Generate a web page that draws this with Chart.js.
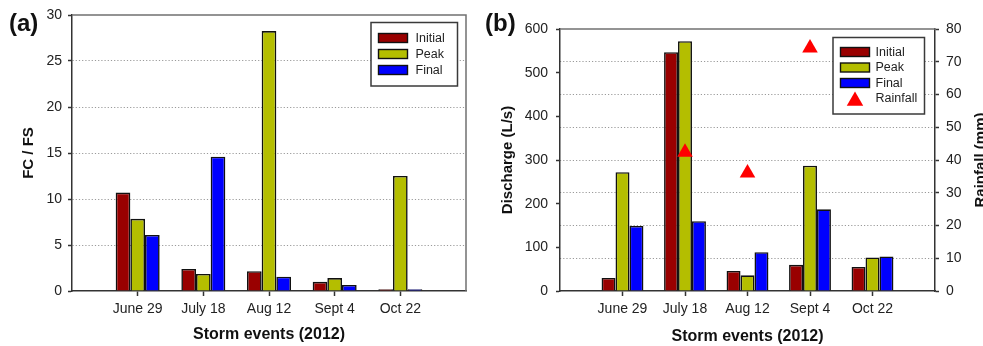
<!DOCTYPE html>
<html>
<head>
<meta charset="utf-8">
<script src="https://cdn.jsdelivr.net/npm/chart.js@4/dist/chart.umd.min.js"></script>
<style>
  html, body { margin: 0; padding: 0; background: #fff; overflow: hidden; }
  #wrap { position: relative; width: 983px; height: 346px; overflow: hidden; }
  .panel { position: absolute; top: 0; }
  #panelA { left: 0; }
  #panelB { left: 480px; }
</style>
</head>
<body>
<div id="wrap">
  <div class="panel" id="panelA"><canvas id="fcChart" width="480" height="346"></canvas></div>
  <div class="panel" id="panelB"><canvas id="qChart" width="520" height="346"></canvas></div>
</div>
<script>
const events = ['June 29', 'July 18', 'Aug 12', 'Sept 4', 'Oct 22'];

// FC / FS ratios per storm
const fcInitial = [10.7, 2.4, 2.15, 1.0, 0.2];
const fcPeak = [7.85, 1.85, 28.25, 1.4, 12.5];
const fcFinal = [6.1, 14.6, 1.55, 0.65, 0.2];

// discharge (L/s)
const qInitial = [30, 547, 46, 60, 55];
const qPeak = [272, 572, 36, 287, 77];
const qFinal = [149, 160, 89, 187, 79];

// rainfall (mm), no triangle for first and last storm
const rainfall = [null, 42.4, 36, 74.2, null];

// axis ranges: [min, max, step]
const fcAxis = [0, 30, 5];
const qAxis = [0, 600, 100];
const rainAxis = [0, 80, 10];

const colors = { Initial: '#990000', Peak: '#b4be00', Final: '#0000ff', Rainfall: '#ff0000' };

// empty slot on each side so the groups sit one category in from the frame
const slots = ['', ...events, ''];
const pad = arr => [null, ...arr, null];

const FONT = "'Liberation Sans', Arial, Helvetica, sans-serif";
Chart.defaults.font.family = FONT;
Chart.defaults.color = '#222';

const clear = 'rgba(0,0,0,0)';
const axisColor = '#333';

function bar(label, values, axisId) {
  return {
    label: label,
    data: pad(values),
    yAxisID: axisId,
    backgroundColor: colors[label],
    borderColor: '#111',
    borderWidth: 1.6,
    categoryPercentage: 0.67,
    barPercentage: 1.0
  };
}

function xScale(titlePadBottom) {
  return {
    type: 'category',
    offset: false,
    grid: {
      display: true, offset: false, drawOnChartArea: false, drawTicks: true,
      tickLength: 5, tickWidth: 1.5,
      tickColor: c => (c.index === 0 || c.index === slots.length - 1) ? clear : axisColor
    },
    border: { display: true, color: axisColor, width: 1.5 },
    ticks: { autoSkip: false, maxRotation: 0, padding: 5, font: { size: 14 }, color: '#222' },
    title: {
      display: true, text: 'Storm events (2012)', color: '#111',
      font: { size: 16, weight: 'bold' }, padding: { top: 0, bottom: titlePadBottom }
    },
    afterFit: s => { s.height = 55; }
  };
}

// dotted lines between the end values of an axis
function dottedGrid(range) {
  return c => (c.tick && c.tick.value > range[0] && c.tick.value < range[1]) ? '#9a9a9a' : clear;
}

// frame, panel letter, boxed legend and the clipped right-hand title
const panelDecor = {
  id: 'panelDecor',
  afterDraw(chart, args, opts) {
    const { ctx, chartArea: a } = chart;
    ctx.save();

    ctx.strokeStyle = '#707070';
    ctx.lineWidth = 1.5;
    ctx.beginPath();
    ctx.moveTo(a.left, a.top);
    ctx.lineTo(a.right, a.top);
    if (opts.closeRight) ctx.lineTo(a.right, a.bottom);
    ctx.stroke();

    ctx.fillStyle = '#111';
    ctx.font = 'bold 24px ' + FONT;
    ctx.textAlign = 'left';
    ctx.textBaseline = 'alphabetic';
    ctx.fillText(opts.letter, opts.letterX, 31);

    if (opts.rightTitle) {
      ctx.save();
      ctx.translate(opts.rightTitleX, (a.top + a.bottom) / 2);
      ctx.rotate(-Math.PI / 2);
      ctx.font = 'bold 15px ' + FONT;
      ctx.textAlign = 'center';
      ctx.textBaseline = 'top';
      ctx.fillText(opts.rightTitle, 0, 0);
      ctx.restore();
    }

    const lg = opts.legend;
    const x0 = a.right - lg.right - lg.w;
    const y0 = a.top + lg.top;
    ctx.fillStyle = '#fff';
    ctx.fillRect(x0, y0, lg.w, lg.h);
    ctx.strokeStyle = '#3a3a3a';
    ctx.lineWidth = 1.5;
    ctx.strokeRect(x0, y0, lg.w, lg.h);

    ctx.font = '12.5px ' + FONT;
    ctx.textBaseline = 'middle';
    chart.data.datasets.forEach((ds, i) => {
      const cy = y0 + lg.first + i * lg.step;
      const sx = x0 + 7.5;
      if (ds.type === 'line') {
        const cx = sx + 14.5, r = 9.5;
        ctx.fillStyle = colors[ds.label];
        ctx.beginPath();
        ctx.moveTo(cx, cy - r * 0.75);
        ctx.lineTo(cx + r * 0.866, cy + r * 0.75);
        ctx.lineTo(cx - r * 0.866, cy + r * 0.75);
        ctx.closePath();
        ctx.fill();
      } else {
        ctx.fillStyle = colors[ds.label];
        ctx.fillRect(sx, cy - 4.5, 29, 9);
        ctx.strokeStyle = '#111';
        ctx.lineWidth = 1.4;
        ctx.strokeRect(sx, cy - 4.5, 29, 9);
      }
      ctx.fillStyle = '#222';
      ctx.fillText(ds.label, x0 + lg.textX, cy + 0.5);
    });

    ctx.restore();
  }
};

const common = {
  responsive: false,
  animation: false,
  events: [],
  plugins: { legend: { display: false }, tooltip: { enabled: false } }
};

// (a) FC / FS
new Chart(document.getElementById('fcChart'), {
  type: 'bar',
  data: {
    labels: slots,
    datasets: [
      bar('Initial', fcInitial, 'y'),
      bar('Peak', fcPeak, 'y'),
      bar('Final', fcFinal, 'y')
    ]
  },
  plugins: [panelDecor],
  options: Object.assign({}, common, {
    layout: { padding: { top: 15, right: 14, left: 0, bottom: 0 } },
    plugins: Object.assign({}, common.plugins, {
      panelDecor: {
        letter: '(a)', letterX: 9, closeRight: true,
        legend: { w: 86.5, h: 63.5, right: 8.5, top: 7.5, first: 15.5, step: 16, textX: 44.5 }
      }
    }),
    scales: {
      x: xScale(2),
      y: {
        min: fcAxis[0], max: fcAxis[1],
        ticks: { stepSize: fcAxis[2], padding: 6, font: { size: 14 }, color: '#222' },
        grid: {
          color: dottedGrid(fcAxis), lineWidth: 1,
          drawTicks: true, tickLength: 4, tickWidth: 1.5, tickColor: axisColor
        },
        border: { display: true, color: axisColor, width: 1.5, dash: [1.2, 2] },
        title: {
          display: true, text: 'FC / FS', color: '#111',
          font: { size: 15, weight: 'bold' }, padding: { top: 20, bottom: 0 }
        },
        afterFit: s => { s.width = 72; }
      }
    }
  })
});

// (b) discharge with rainfall on the right axis
new Chart(document.getElementById('qChart'), {
  type: 'bar',
  data: {
    labels: slots,
    datasets: [
      bar('Initial', qInitial, 'y'),
      bar('Peak', qPeak, 'y'),
      bar('Final', qFinal, 'y'),
      {
        type: 'line',
        label: 'Rainfall',
        data: pad(rainfall),
        yAxisID: 'y1',
        showLine: false,
        order: -1,
        pointStyle: 'triangle',
        pointRadius: 9,
        pointBackgroundColor: colors.Rainfall,
        pointBorderWidth: 0
      }
    ]
  },
  plugins: [panelDecor],
  options: Object.assign({}, common, {
    layout: { padding: { top: 29, right: 0, left: 0, bottom: 0 } },
    plugins: Object.assign({}, common.plugins, {
      panelDecor: {
        letter: '(b)', letterX: 5, closeRight: false,
        rightTitle: 'Rainfall (mm)', rightTitleX: 493,
        legend: { w: 91.5, h: 76.5, right: 10.5, top: 8.5, first: 14.5, step: 15.5, textX: 42.5 }
      }
    }),
    scales: {
      x: xScale(0),
      y: {
        position: 'left',
        min: qAxis[0], max: qAxis[1],
        ticks: { stepSize: qAxis[2], padding: 8, font: { size: 14 }, color: '#222' },
        grid: {
          drawOnChartArea: false, drawTicks: true,
          tickLength: 4, tickWidth: 1.5, tickColor: axisColor
        },
        border: { display: true, color: axisColor, width: 1.5 },
        title: {
          display: true, text: 'Discharge (L/s)', color: '#111',
          font: { size: 15, weight: 'bold' }, padding: { top: 19, bottom: 0 }
        },
        afterFit: s => { s.width = 80; }
      },
      y1: {
        position: 'right',
        min: rainAxis[0], max: rainAxis[1],
        ticks: { stepSize: rainAxis[2], padding: 7, font: { size: 14 }, color: '#222' },
        grid: {
          color: dottedGrid(rainAxis), lineWidth: 1, drawOnChartArea: true,
          drawTicks: true, tickLength: 4, tickWidth: 1.5, tickColor: axisColor
        },
        border: { display: true, color: axisColor, width: 1.5, dash: [1.2, 2] },
        afterFit: s => { s.width = 65; }
      }
    }
  })
});
</script>
</body>
</html>
